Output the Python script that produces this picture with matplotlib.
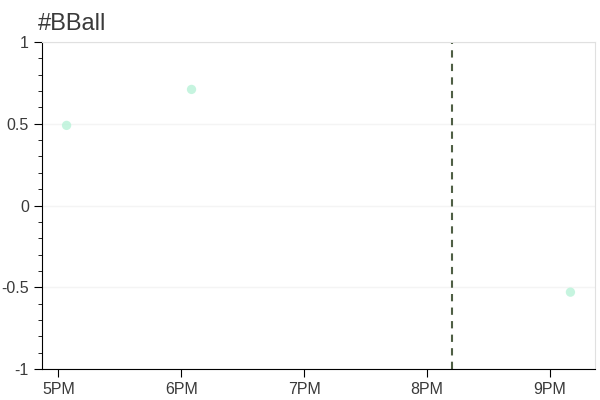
import datetime as dt
import matplotlib
matplotlib.use("Agg")
import matplotlib.pyplot as plt
import matplotlib.dates as mdates
from matplotlib.ticker import MultipleLocator, FuncFormatter

day = dt.datetime(2020, 1, 1)
times = [day.replace(hour=17, minute=4), day.replace(hour=18, minute=5), day.replace(hour=21, minute=10)]
scores = [0.49, 0.71, -0.53]
marker_time = day.replace(hour=20, minute=12)
x_start = day.replace(hour=16, minute=52)
x_end = day.replace(hour=21, minute=22)
tick_hours = [17, 18, 19, 20, 21]

plt.rcParams['font.family'] = ['Liberation Sans', 'DejaVu Sans']

fig = plt.figure(figsize=(6, 4), dpi=100)
ax = fig.add_axes([0.07, 0.0775, 0.9217, 0.8175])

ax.scatter(times, scores, s=45, color='#b8f2d8', alpha=0.8, edgecolors='none', zorder=3)
ax.axvline(marker_time, color='#4f5f45', linestyle=(0, (3.5, 3)), linewidth=1.5, zorder=2)

ax.set_xlim(x_start, x_end)
ax.set_ylim(-1, 1)
ax.set_xticks([day.replace(hour=h) for h in tick_hours])
ax.xaxis.set_major_formatter(mdates.DateFormatter('%-I%p'))
ax.yaxis.set_major_locator(MultipleLocator(0.5))
ax.yaxis.set_minor_locator(MultipleLocator(0.1))
ax.yaxis.set_major_formatter(FuncFormatter(lambda v, p: '%g' % v))

ax.grid(axis='y', which='major', color='#f4f4f4', linewidth=1)
ax.set_axisbelow(True)
for s in ['top', 'right']:
    ax.spines[s].set_color('#e0e0e0')
for s in ['left', 'bottom']:
    ax.spines[s].set_color('black')
ax.tick_params(axis='both', which='major', length=6, color='black', labelcolor='#3a3a3a', labelsize=11.5)
ax.tick_params(axis='y', which='minor', length=3, color='black')

ax.text(-0.007, 1.02, '#BBall', transform=ax.transAxes, fontsize=17, color='#3a3a3a', ha='left', va='bottom')

fig.savefig('out.png')
